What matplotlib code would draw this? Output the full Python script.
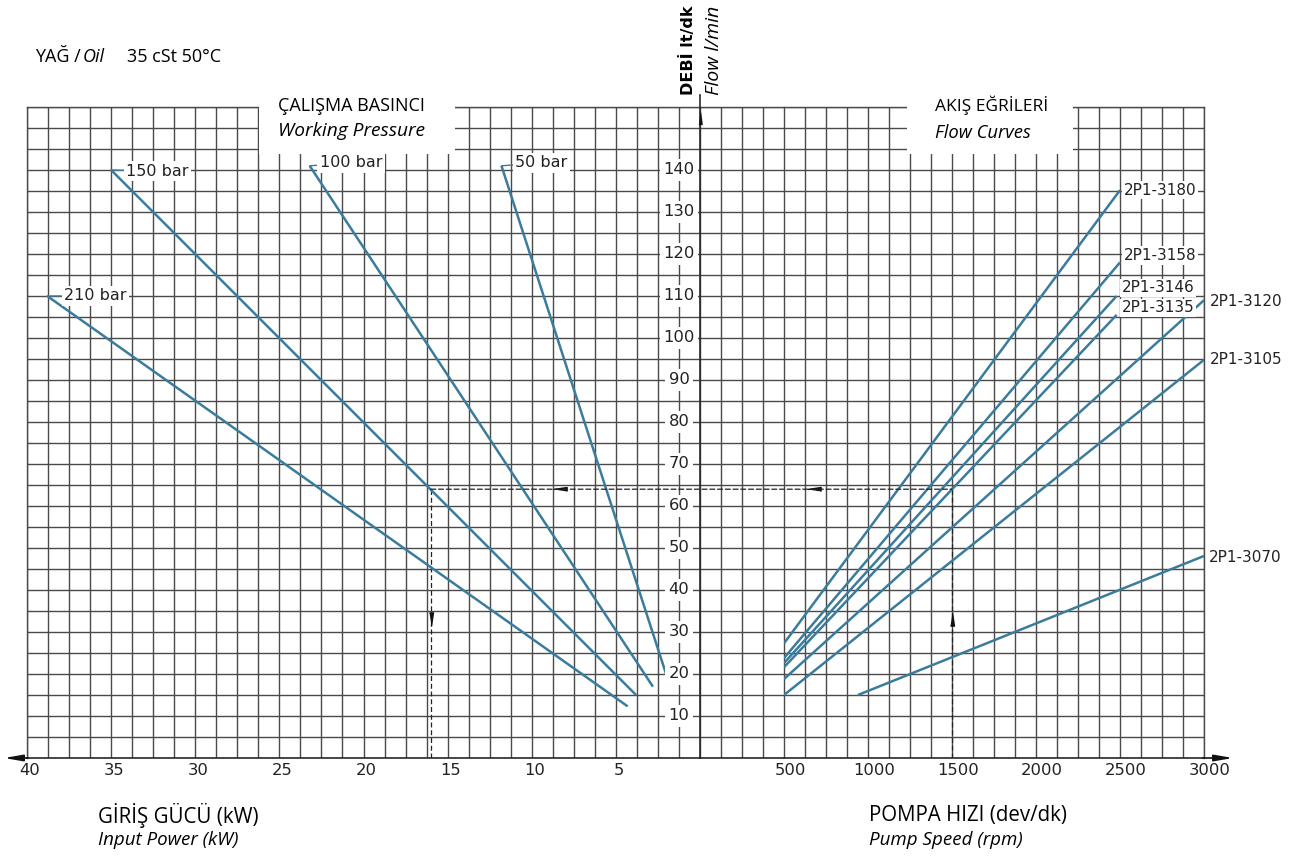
import matplotlib
matplotlib.use("Agg")
import matplotlib.pyplot as plt
import numpy as np
from matplotlib.patches import Rectangle, ConnectionPatch, FancyArrowPatch

# ---------------- data ----------------
pressure_labels = ["210 bar", "150 bar", "100 bar", "50 bar"]
pressure_power_start = [38.8, 35.0, 23.2, 11.8]
pressure_flow_start = [110.0, 140.0, 141.0, 141.0]
pressure_power_end = [4.3, 3.8, 2.8, 2.0]
pressure_flow_end = [12.3, 15.0, 17.0, 19.8]

pump_labels = ["2P1-3180", "2P1-3158", "2P1-3146", "2P1-3135",
               "2P1-3120", "2P1-3105", "2P1-3070"]
pump_speed_start = [500, 500, 500, 500, 500, 500, 940]
pump_flow_start = [27.3, 23.8, 22.6, 21.6, 18.8, 15.0, 15.0]
pump_speed_end = [2500, 2500, 2480, 2480, 3000, 3000, 3000]
pump_flow_end = [135.2, 118.0, 110.0, 105.5, 109.0, 94.8, 48.1]

power_ticks = [40, 35, 30, 25, 20, 15, 10, 5]
speed_ticks = [500, 1000, 1500, 2000, 2500, 3000]
flow_ticks = [10, 20, 30, 40, 50, 60, 70, 80, 90, 100, 110, 120, 130, 140]

example_flow = 64
example_power = 16
example_speed = 1500

# ---------------- layout ----------------
W, H = 1300, 856
fig = plt.figure(figsize=(W / 100, H / 100), dpi=100)

def fx(x):
    return x / W

def fy(y):
    return 1 - y / H

GX0, GXA, GXR, GX1 = 27, 700, 784, 1204
GYT, GYB = 107, 758
GRID = "#4a4a4a"
CURVE = "#3b7c9c"
AXC = "#2a2a2a"

hh = (GYB - GYT) / H
axL = fig.add_axes([fx(GX0), fy(GYB), (GXA - GX0) / W, hh])
axM = fig.add_axes([fx(GXA), fy(GYB), (GXR - GXA) / W, hh], sharey=axL)
axR = fig.add_axes([fx(GXR), fy(GYB), (GX1 - GXR) / W, hh], sharey=axL)

axL.set_xlim(40, 0)
axL.set_ylim(0, 155)
axM.set_xlim(0, 4)
axR.set_xlim(500, 3000)

axL.set_xticks(np.arange(0, 40.01, 1.25))
axM.set_xticks(np.arange(0, 4.01, 1))
axR.set_xticks(np.arange(500, 3000.1, 125))
axL.set_yticks(np.arange(0, 155.1, 5))

for ax in (axL, axM, axR):
    ax.set_axisbelow(True)
    ax.grid(True, color=GRID, lw=1.0)
    ax.tick_params(length=0, labelbottom=False, labelleft=False)
    for s in ax.spines.values():
        s.set_color(GRID)
        s.set_linewidth(1.0)
    ax.patch.set_alpha(0)

axL.spines["right"].set_visible(False)
axM.spines["left"].set_visible(False)
axM.spines["right"].set_visible(False)
axR.spines["left"].set_visible(False)
for ax in (axL, axM, axR):
    ax.spines["bottom"].set_color(AXC)
    ax.spines["bottom"].set_linewidth(1.2)

# white title boxes cutting the grid
axL.add_patch(Rectangle((14.58, 143.8), 26.22 - 14.58, 16, facecolor="white",
                        edgecolor="none", zorder=3, clip_on=False))
axR.add_patch(Rectangle((1232, 143.8), 2220 - 1232, 16, facecolor="white",
                        edgecolor="none", zorder=3, clip_on=False))

# x tick labels
for v in power_ticks:
    axL.annotate(str(v), xy=(v, 0), xytext=(3, -5), textcoords="offset pixels",
                 ha="center", va="top", fontsize=11.8, color="#222222")
for v in speed_ticks:
    axR.annotate(str(v), xy=(v, 0), xytext=(6, -5), textcoords="offset pixels",
                 ha="center", va="top", fontsize=11.8, color="#222222")

# y tick labels (on the grid column next to the flow axis)
for v in flow_ticks:
    axL.text(1.25, v, str(v), ha="center", va="center", fontsize=11.8,
             color="#222222", zorder=5,
             bbox=dict(boxstyle="square,pad=0.22", fc="white", ec="none"))

# pressure lines
p_offsets = [(17, 0), (15, -1), (10, 3), (14, 3)]
for lab, ps, fs, pe, fe, off in zip(pressure_labels, pressure_power_start,
                                     pressure_flow_start, pressure_power_end,
                                     pressure_flow_end, p_offsets):
    axL.plot([ps, pe], [fs, fe], color=CURVE, lw=1.8, solid_capstyle="butt",
             zorder=4)
    axL.annotate(lab, xy=(ps, fs), xytext=off, textcoords="offset pixels",
                 ha="left", va="center", fontsize=11.5, color="#222222",
                 zorder=6,
                 bbox=dict(boxstyle="square,pad=0.15", fc="white", ec="none"),
                 arrowprops=dict(arrowstyle="-", color=CURVE, lw=1.0,
                                 shrinkA=0, shrinkB=0))

# pump flow lines
q_offsets = [(4, 0), (4, 7), (5, 8), (5, 7), (6, -1), (6, 0), (5, -2)]
for lab, ss, fs, se, fe, off in zip(pump_labels, pump_speed_start,
                                     pump_flow_start, pump_speed_end,
                                     pump_flow_end, q_offsets):
    axR.plot([ss, se], [fs, fe], color=CURVE, lw=1.8, solid_capstyle="butt",
             zorder=4)
    axR.annotate(lab, xy=(se, fe), xytext=off, textcoords="offset pixels",
                 ha="left", va="center", fontsize=11, color="#222222",
                 zorder=6,
                 bbox=dict(boxstyle="square,pad=0.12", fc="white", ec="none"))

# example dashed reading
dash_kw = dict(color="#222222", lw=0.9, dashes=(4, 2.2))
axL.plot([example_power, example_power], [0, example_flow], zorder=3.5,
         **dash_kw)
axR.plot([example_speed, example_speed], [0, example_flow], zorder=3.5,
         **dash_kw)
con = ConnectionPatch(xyA=(example_power, example_flow), coordsA=axL.transData,
                      xyB=(example_speed, example_flow), coordsB=axR.transData,
                      color="#222222", lw=0.9, linestyle=(0, (4, 2.2)),
                      zorder=3.5)
fig.add_artist(con)

m_left = [(-1, 0), (1, 0.3), (1, -0.3)]
m_up = [(0, 1), (0.3, -1), (-0.3, -1)]
m_down = [(0, -1), (0.3, 1), (-0.3, 1)]
axL.plot([8.3], [example_flow], marker=m_left, ms=9.5, color="#111111",
         zorder=6, clip_on=False)
axR.plot([680], [example_flow], marker=m_left, ms=9.5, color="#111111",
         zorder=6, clip_on=False)
axL.plot([example_power], [33], marker=m_down, ms=9.5, color="#111111", zorder=6)
axR.plot([example_speed], [33], marker=m_up, ms=9.5, color="#111111", zorder=6)

# flow axis (vertical) with arrow
axM.plot([0, 0], [0, (GYB - 95) / 4.2], color=AXC, lw=1.2, clip_on=False,
         zorder=6)
axM.plot([0], [(GYB - 117.5) / 4.2], marker=[(0, 1), (0.27, -1), (-0.27, -1)],
         ms=8.5, color="#111111", clip_on=False, zorder=7)

# horizontal axis arrows
fig.add_artist(FancyArrowPatch((fx(GX0 + 1), fy(GYB)), (fx(4), fy(GYB)),
                               transform=fig.transFigure,
                               arrowstyle="-|>,head_length=11,head_width=1.9",
                               mutation_scale=1, color="#111111", lw=1.2,
                               shrinkA=0, shrinkB=0))
fig.add_artist(FancyArrowPatch((fx(GX1 - 1), fy(GYB)), (fx(1233), fy(GYB)),
                               transform=fig.transFigure,
                               arrowstyle="-|>,head_length=11,head_width=1.9",
                               mutation_scale=1, color="#111111", lw=1.2,
                               shrinkA=0, shrinkB=0))

# ---------------- texts ----------------
TF = "Open Sans"
fig.text(fx(35), fy(57), "YAĞ /", family=TF, fontsize=13, va="center")
fig.text(fx(83), fy(57), "Oil", family=TF, style="italic", fontsize=13,
         va="center")
fig.text(fx(127), fy(57), "35 cSt 50°C", family=TF, fontsize=13, va="center")

fig.text(fx(278), fy(106), "ÇALIŞMA BASINCI", family=TF, fontsize=13,
         va="center", zorder=8)
fig.text(fx(278), fy(131), "Working Pressure", family=TF, style="italic",
         fontsize=13.8, va="center", zorder=8)
fig.text(fx(935), fy(105), "AKIŞ EĞRİLERİ", family=TF, fontsize=12.5,
         va="center", zorder=8)
fig.text(fx(935), fy(133), "Flow Curves", family=TF, style="italic",
         fontsize=13.2, va="center", zorder=8)

fig.text(fx(98), fy(815), "GİRİŞ GÜCÜ (kW)", family=TF, fontsize=14.8,
         va="center")
fig.text(fx(98), fy(840), "Input Power (kW)", family=TF, style="italic",
         fontsize=13.5, va="center")
fig.text(fx(869), fy(815), "POMPA HIZI (dev/dk)", family=TF, fontsize=14.8,
         va="center")
fig.text(fx(869), fy(840), "Pump Speed (rpm)", family=TF, style="italic",
         fontsize=13.5, va="center")

fig.text(fx(688), fy(95), "DEBİ lt/dk", fontsize=11.5, weight="bold",
         rotation=90, ha="center", va="bottom")
fig.text(fx(714), fy(95), "Flow l/min", family=TF, style="italic", fontsize=14,
         rotation=90, ha="center", va="bottom")

fig.savefig("out.png", dpi=100)
